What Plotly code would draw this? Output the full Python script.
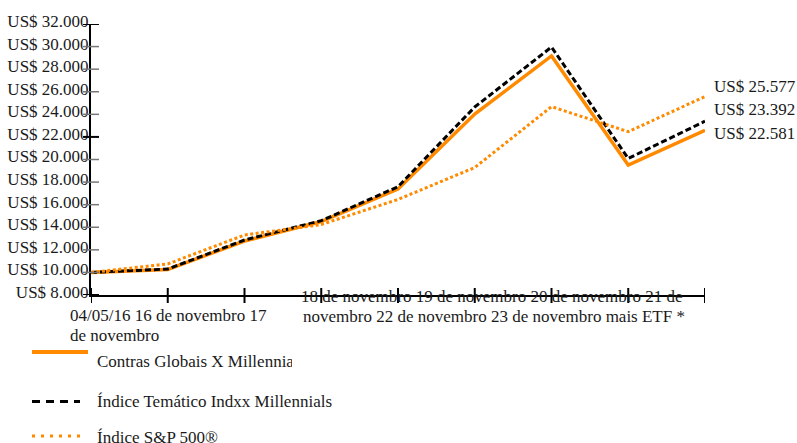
import textwrap
import plotly.graph_objects as go

# ---------------- data ----------------
x_labels = ["04/05/16", "16 de novembro", "17 de novembro", "18 de novembro",
            "19 de novembro", "20 de novembro", "21 de novembro", "22 de novembro",
            "23 de novembro mais ETF *"]
fund_name = "Contras Globais X Millennials ETF"
index_name = "Índice Temático Indxx Millennials"
sp_name = "Índice S&P 500®"

fund_values = [10000, 10260, 12780, 14510, 17390, 24030, 29170, 19510, 22581]
index_values = [10000, 10300, 12870, 14580, 17590, 24650, 29960, 20090, 23392]
sp_values = [10000, 10750, 13310, 14240, 16460, 19290, 24680, 22460, 25577]

y_ticks = [8000, 10000, 12000, 14000, 16000, 18000, 20000, 22000, 24000,
           26000, 28000, 30000, 32000]
y_major = [8000, 22000, 32000]

# ---------------- styling ----------------
W, H = 797, 443
L, R, T, B = 91, 705, 24, 295
FONT = "Liberation Serif"
ORANGE = "#FF8A00"
TXT = "#1a1a1a"


def px(x):
    return (x - L) / (R - L)


def py(y):
    return (B - y) / (B - T)


def fmt(v):
    return "US$ " + f"{v:,.0f}".replace(",", ".")


xs = list(range(len(x_labels)))

fig = go.Figure()
fig.add_trace(go.Scatter(x=xs, y=fund_values, name=fund_name, mode="lines",
                         line=dict(color=ORANGE, width=3.5)))
fig.add_trace(go.Scatter(x=xs, y=index_values, name=index_name, mode="lines",
                         line=dict(color="black", width=3, dash="6px,3px")))
fig.add_trace(go.Scatter(x=xs, y=sp_values, name=sp_name, mode="lines",
                         line=dict(color=ORANGE, width=3, dash="3px,2.5px")))

shapes = []
# y ticks crossing the axis
for v in y_ticks:
    major = v in y_major
    shapes.append(dict(type="line", xref="paper", yref="y",
                       x0=px(83), x1=px(99), y0=v, y1=v,
                       line=dict(color="black" if major else "#777",
                                 width=2 if major else 1.5)))
# x ticks crossing the axis
for i in xs:
    shapes.append(dict(type="line", xref="x", yref="paper",
                       x0=i, x1=i, y0=py(303), y1=py(288),
                       line=dict(color="black", width=2)))

# manual legend
leg = [
    (fund_name, dict(color=ORANGE, width=4), 32, 88, 352, 361.5, 195),
    (index_name, dict(color="black", width=3, dash="8px,6px"), 32, 80, 401.5, 401.5, None),
    (sp_name, dict(color=ORANGE, width=3, dash="3px,6px"), 32, 80, 436, 437, None),
]
annotations = []
for name, ln, x0, x1, ly, ty, wd in leg:
    shapes.append(dict(type="line", xref="paper", yref="paper",
                       x0=px(x0), x1=px(x1), y0=py(ly), y1=py(ly), line=ln))
    a = dict(xref="paper", yref="paper", x=px(95), y=py(ty), text=name,
             showarrow=False, xanchor="left", yanchor="middle", align="left",
             font=dict(family=FONT, size=17, color=TXT))
    if wd:
        a["width"] = wd
    annotations.append(a)

# end-value labels
for v, ty in [(sp_values[-1], 86), (index_values[-1], 109.5), (fund_values[-1], 133)]:
    annotations.append(dict(xref="paper", yref="paper", x=px(712), y=py(ty),
                            text=fmt(v), showarrow=False, xanchor="left",
                            yanchor="middle",
                            font=dict(family=FONT, size=17, color=TXT)))

# x tick labels (wrapped text blocks)
block1 = textwrap.wrap(" ".join(x_labels[:3]), 26)
block2 = textwrap.wrap(" ".join(x_labels[3:]), 50)
for line, (tx, ty, anc) in zip(block1, [(68, 315.5, "left"), (68, 335.5, "left")]):
    annotations.append(dict(xref="paper", yref="paper", x=px(tx), y=py(ty),
                            text=line, showarrow=False, xanchor=anc,
                            yanchor="middle",
                            font=dict(family=FONT, size=17, color=TXT)))
for line, (tx, ty) in zip(block2, [(491, 296.5), (494, 316)]):
    annotations.append(dict(xref="paper", yref="paper", x=px(tx), y=py(ty),
                            text=line, showarrow=False, xanchor="center",
                            yanchor="middle",
                            font=dict(family=FONT, size=17, color=TXT)))

fig.update_layout(
    width=W, height=H,
    margin=dict(l=L, r=W - R, t=T, b=H - B, pad=0, autoexpand=False),
    paper_bgcolor="white", plot_bgcolor="white",
    showlegend=False,
    font=dict(family=FONT, size=17, color=TXT),
    shapes=shapes, annotations=annotations,
    xaxis=dict(range=[0, len(x_labels) - 1], showgrid=False, zeroline=False,
               showline=True, linecolor="black", linewidth=2, automargin=False,
               showticklabels=False, ticks=""),
    yaxis=dict(range=[y_ticks[0], y_ticks[-1]], showgrid=False, zeroline=False,
               showline=True, linecolor="black", linewidth=2, ticks="",
               automargin=False,
               tickvals=y_ticks, ticktext=[fmt(v) for v in y_ticks],
               ticklabelshift=-3, ticklabelstandoff=-3,
               tickfont=dict(family=FONT, size=17, color=TXT)),
)

fig.write_html("out.html", config={"displayModeBar": False},
               post_script="document.body.style.margin='0';document.body.style.overflow='hidden';")
